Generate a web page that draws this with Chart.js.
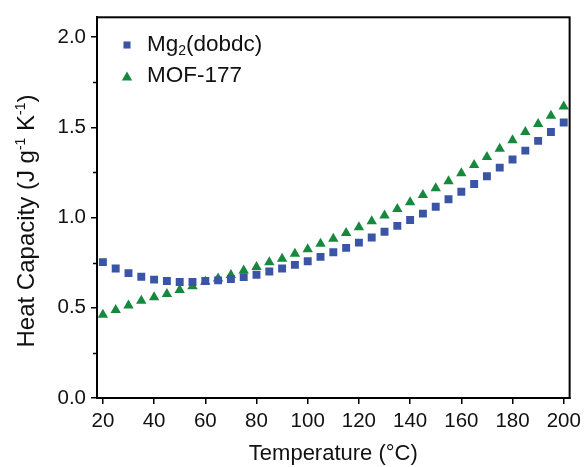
<!DOCTYPE html>
<html lang="en">
  <head>
    <meta charset="UTF-8" />
    <title>Heat Capacity</title>
    <script src="https://cdn.jsdelivr.net/npm/chart.js"></script>
    <style>
      html,
      body {
        margin: 0;
        padding: 0;
        background: #fff;
      }
    </style>
  </head>
  <body>
    <canvas id="chart-area" width="586" height="467"></canvas>

    <script>
      // temperatures (°C)
      const temps = [
        20, 25, 30, 35, 40, 45, 50, 55, 60, 65, 70, 75, 80, 85, 90, 95, 100,
        105, 110, 115, 120, 125, 130, 135, 140, 145, 150, 155, 160, 165, 170,
        175, 180, 185, 190, 195, 200,
      ];

      // Mg2(dobdc), J g-1 K-1
      const mgValues = [
        0.753, 0.718, 0.692, 0.672, 0.656, 0.648, 0.643, 0.643, 0.648, 0.652,
        0.659, 0.67, 0.683, 0.701, 0.718, 0.738, 0.758, 0.782, 0.808, 0.832,
        0.861, 0.89, 0.921, 0.954, 0.987, 1.022, 1.06, 1.102, 1.143, 1.186,
        1.229, 1.277, 1.322, 1.371, 1.425, 1.474, 1.527,
      ];

      // MOF-177
      const mofValues = [
        0.461, 0.488, 0.512, 0.539, 0.558, 0.576, 0.598, 0.62, 0.644, 0.662,
        0.682, 0.706, 0.726, 0.753, 0.772, 0.8, 0.825, 0.855, 0.882, 0.915,
        0.946, 0.979, 1.012, 1.047, 1.085, 1.125, 1.162, 1.202, 1.245, 1.292,
        1.336, 1.382, 1.428, 1.474, 1.519, 1.565, 1.615,
      ];

      const xTicks = [20, 40, 60, 80, 100, 120, 140, 160, 180, 200];
      const yTicks = [0, 0.5, 1, 1.5, 2];
      const yMinorTicks = [0.25, 0.75, 1.25, 1.75];

      const FONT = "'Liberation Sans', Arial, sans-serif";
      const blue = "#3a55a6";
      const green = "#16893f";

      // frame, minor ticks, y title and legend
      const extras = {
        id: "extras",
        afterDraw(chart) {
          const { ctx, chartArea: a, scales } = chart;
          ctx.save();

          // box
          ctx.strokeStyle = "#000";
          ctx.lineWidth = 2;
          ctx.strokeRect(a.left, a.top, a.right - a.left, a.bottom - a.top);

          // minor y ticks
          ctx.lineWidth = 1.5;
          yMinorTicks.forEach((v) => {
            const y = Math.round(scales.y.getPixelForValue(v)) + 0.5;
            ctx.beginPath();
            ctx.moveTo(a.left - 4, y);
            ctx.lineTo(a.left, y);
            ctx.stroke();
          });

          // y title with superscripts
          ctx.fillStyle = "#111";
          ctx.textBaseline = "alphabetic";
          ctx.textAlign = "left";
          const big = "24px " + FONT;
          const small = "14px " + FONT;
          const parts = [
            ["Heat Capacity (J g", big, 0],
            ["-1", small, -9],
            [" K", big, 0],
            ["-1", small, -9],
            [")", big, 0],
          ];
          let total = 0;
          parts.forEach((p) => {
            ctx.font = p[1];
            total += ctx.measureText(p[0]).width;
          });
          ctx.translate(34, 221);
          ctx.rotate(-Math.PI / 2);
          let cx = -total / 2;
          parts.forEach((p) => {
            ctx.font = p[1];
            ctx.fillText(p[0], cx, p[2]);
            cx += ctx.measureText(p[0]).width;
          });
          ctx.setTransform(1, 0, 0, 1, 0, 0);

          // legend
          const rows = [
            { ds: chart.data.datasets[0], y: 45 },
            { ds: chart.data.datasets[1], y: 76 },
          ];
          rows.forEach((r, i) => {
            ctx.fillStyle = r.ds.backgroundColor;
            Chart.helpers.drawPoint(
              ctx,
              {
                pointStyle: r.ds.pointStyle,
                radius: i === 0 ? 5 : 6,
                borderWidth: 0,
                rotation: 0,
              },
              127,
              i === 0 ? r.y : r.y + 1.5
            );
            ctx.fillStyle = "#111";
            ctx.textBaseline = "middle";
            ctx.font = "22.5px " + FONT;
            if (i === 0) {
              let tx = 147;
              ctx.fillText("Mg", tx, r.y);
              tx += ctx.measureText("Mg").width;
              ctx.font = "14px " + FONT;
              ctx.fillText("2", tx, r.y + 6);
              tx += ctx.measureText("2").width;
              ctx.font = "22.5px " + FONT;
              ctx.fillText("(dobdc)", tx, r.y);
            } else {
              ctx.fillText(r.ds.label, 147, r.y);
            }
          });

          ctx.restore();
        },
      };

      const ctx = document.getElementById("chart-area").getContext("2d");

      new Chart(ctx, {
        type: "scatter",
        data: {
          datasets: [
            {
              label: "Mg2(dobdc)",
              data: temps.map((t, i) => ({ x: t, y: mgValues[i] })),
              pointStyle: "rect",
              pointRadius: 5.6,
              pointHoverRadius: 5.6,
              backgroundColor: blue,
              borderColor: blue,
              borderWidth: 0,
            },
            {
              label: "MOF-177",
              data: temps.map((t, i) => ({ x: t, y: mofValues[i] })),
              pointStyle: "triangle",
              pointRadius: 6,
              pointHoverRadius: 6,
              backgroundColor: green,
              borderColor: green,
              borderWidth: 0,
            },
          ],
        },
        options: {
          responsive: false,
          animation: false,
          layout: { padding: { top: 14, right: 13, left: 0, bottom: 0 } },
          plugins: {
            legend: { display: false },
            tooltip: { enabled: false },
          },
          scales: {
            x: {
              type: "linear",
              min: 17.7,
              max: 202.3,
              afterBuildTicks: (s) => {
                s.ticks = xTicks.map((v) => ({ value: v }));
              },
              afterFit: (s) => {
                s.height = 69;
              },
              grid: {
                drawOnChartArea: false,
                tickLength: 6,
                color: "#000",
                lineWidth: 1.5,
              },
              border: { display: true, color: "#000", width: 2 },
              ticks: {
                color: "#111",
                padding: 5,
                maxRotation: 0,
                font: { family: FONT, size: 20.5 },
              },
              title: {
                display: true,
                text: "Temperature (°C)",
                color: "#111",
                font: { family: FONT, size: 22 },
                padding: { top: 0, bottom: 0 },
              },
            },
            y: {
              min: 0,
              max: 2.11,
              afterBuildTicks: (s) => {
                s.ticks = yTicks.map((v) => ({ value: v }));
              },
              afterFit: (s) => {
                s.width = 97;
              },
              grid: {
                drawOnChartArea: false,
                tickLength: 6,
                color: "#000",
                lineWidth: 1.5,
              },
              border: { display: true, color: "#000", width: 2 },
              ticks: {
                color: "#111",
                padding: 5,
                font: { family: FONT, size: 20.5 },
                callback: (v) => v.toFixed(1),
              },
            },
          },
        },
        plugins: [extras],
      });
    </script>
  </body>
</html>
